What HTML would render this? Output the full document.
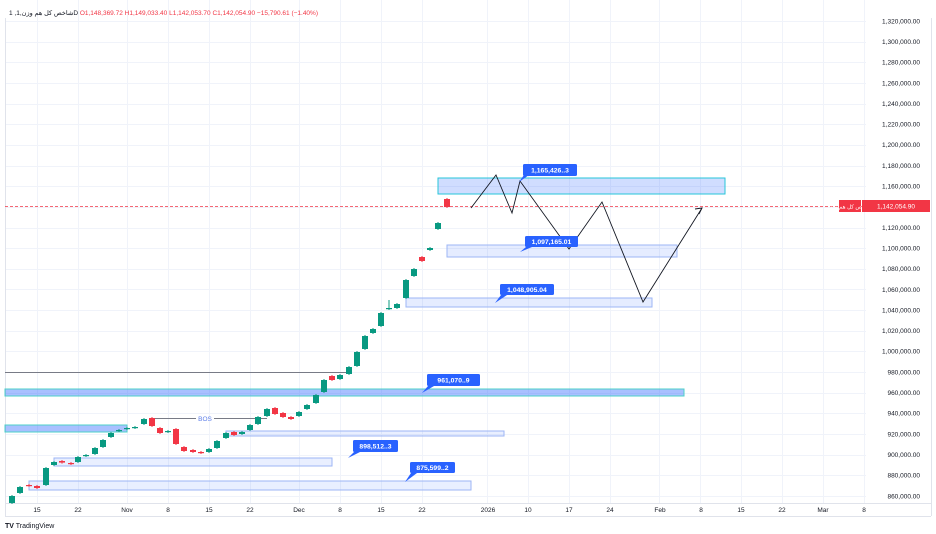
<!DOCTYPE html>
<html><head><meta charset="utf-8"><style>
html,body{margin:0;padding:0;background:#fff;}
svg{display:block;font-family:"Liberation Sans","Noto Sans CJK SC",sans-serif;}
</style></head><body>
<svg width="936" height="534" viewBox="0 0 936 534" xmlns="http://www.w3.org/2000/svg">
<rect width="936" height="534" fill="#fff"/>
<g stroke="#f0f3fa" stroke-width="1">
<line x1="37.5" y1="0" x2="37.5" y2="503"/><line x1="78.5" y1="0" x2="78.5" y2="503"/><line x1="127.5" y1="0" x2="127.5" y2="503"/><line x1="168.5" y1="0" x2="168.5" y2="503"/><line x1="209.5" y1="0" x2="209.5" y2="503"/><line x1="250.5" y1="0" x2="250.5" y2="503"/><line x1="299.5" y1="0" x2="299.5" y2="503"/><line x1="340.5" y1="0" x2="340.5" y2="503"/><line x1="381.5" y1="0" x2="381.5" y2="503"/><line x1="422.5" y1="0" x2="422.5" y2="503"/><line x1="487.5" y1="0" x2="487.5" y2="503"/><line x1="528.5" y1="0" x2="528.5" y2="503"/><line x1="569.5" y1="0" x2="569.5" y2="503"/><line x1="610.5" y1="0" x2="610.5" y2="503"/><line x1="659.5" y1="0" x2="659.5" y2="503"/><line x1="700.5" y1="0" x2="700.5" y2="503"/><line x1="741.5" y1="0" x2="741.5" y2="503"/><line x1="782.5" y1="0" x2="782.5" y2="503"/><line x1="823.5" y1="0" x2="823.5" y2="503"/><line x1="864.5" y1="0" x2="864.5" y2="503"/>
</g>
<g stroke="#f0f3fa" stroke-width="1" id="hg"></g>
<line x1="5" y1="503.5" x2="931" y2="503.5" stroke="#e0e3eb"/>
<line x1="5" y1="516.5" x2="931" y2="516.5" stroke="#e0e3eb"/>
<line x1="5.5" y1="18" x2="5.5" y2="516" stroke="#e0e3eb"/>
<line x1="931.5" y1="18" x2="931.5" y2="516" stroke="#e0e3eb"/>
<g id="py" font-size="6.5" fill="#131722" text-anchor="end"></g>

<!-- boxes -->
<rect x="438" y="178" width="287" height="16" fill="rgba(41,98,255,0.22)" stroke="#26c6da" stroke-width="1"/>
<rect x="447" y="245" width="230" height="12" fill="rgba(41,98,255,0.12)" stroke="#9db6f5" stroke-width="1"/>
<rect x="406" y="298" width="246" height="9" fill="rgba(41,98,255,0.12)" stroke="#9db6f5" stroke-width="1"/>
<rect x="5" y="389" width="679" height="7" fill="rgba(41,98,255,0.4)" stroke="#4dd0c8" stroke-width="1"/>
<rect x="5" y="425" width="122" height="7" fill="rgba(41,98,255,0.4)" stroke="#4dd0c8" stroke-width="1"/>
<rect x="226" y="431" width="278" height="5" fill="rgba(41,98,255,0.1)" stroke="#9db6f5" stroke-width="1"/>
<rect x="54" y="458" width="278" height="8" fill="rgba(41,98,255,0.1)" stroke="#9db6f5" stroke-width="1"/>
<rect x="29" y="481" width="442" height="9" fill="rgba(41,98,255,0.1)" stroke="#9db6f5" stroke-width="1"/>
<line x1="5" y1="372.5" x2="349" y2="372.5" stroke="#787b86" stroke-width="1"/>
<line x1="152" y1="418.5" x2="196" y2="418.5" stroke="#787b86"/>
<line x1="214" y1="418.5" x2="267" y2="418.5" stroke="#787b86"/>
<text x="205" y="421" font-size="6.5" fill="#5b7de8" text-anchor="middle">BOS</text>

<line x1="5" y1="206.5" x2="862" y2="206.5" stroke="#f23645" stroke-width="0.7" stroke-dasharray="3,2"/>

<g id="candles"></g>

<polyline points="471,208 496,175 512,213 520,181 569,249 602,202 643,302 702,208" fill="none" stroke="#131722" stroke-width="0.9"/>
<polyline points="695,209 702,208 699,214" fill="none" stroke="#131722" stroke-width="0.9"/>

<g font-size="6.8" font-weight="bold" fill="#fff">
<path d="M524,175 L519,182 L529,175Z" fill="#2962ff"/><rect x="523" y="164" width="54" height="12" rx="1.5" fill="#2962ff"/><text x="550" y="172.5" text-anchor="middle">1,165,426..3</text>
<path d="M526,247 L520,252 L532,247Z" fill="#2962ff"/><rect x="525" y="236" width="53" height="11" rx="1.5" fill="#2962ff"/><text x="551.5" y="244" text-anchor="middle">1,097,165.01</text>
<path d="M501,295 L495,303 L507,295Z" fill="#2962ff"/><rect x="500" y="284" width="54" height="11" rx="1.5" fill="#2962ff"/><text x="527" y="292" text-anchor="middle">1,048,905.04</text>
<path d="M428,386 L422,393 L434,386Z" fill="#2962ff"/><rect x="427" y="374" width="53" height="12" rx="1.5" fill="#2962ff"/><text x="453.5" y="382.5" text-anchor="middle">961,070..9</text>
<path d="M354,452 L348,458 L360,452Z" fill="#2962ff"/><rect x="353" y="440" width="45" height="12" rx="1.5" fill="#2962ff"/><text x="375.5" y="448.5" text-anchor="middle">898,512..3</text>
<path d="M411,473 L405,482 L417,473Z" fill="#2962ff"/><rect x="410" y="462" width="45" height="11" rx="1.5" fill="#2962ff"/><text x="432.5" y="470" text-anchor="middle">875,599..2</text>
</g>

<rect x="839" y="200" width="22" height="12" fill="#f23645"/>
<text x="850" y="208.5" font-size="5.5" fill="#fff" text-anchor="middle">شاخص کل هم وزن</text>
<rect x="862" y="200" width="68" height="12" fill="#f23645"/>
<text x="896" y="208.5" font-size="6.5" fill="#fff" text-anchor="middle">1,142,054.90</text>

<g font-size="6.5" fill="#131722" text-anchor="middle">
<text x="37" y="512">15</text><text x="78" y="512">22</text><text x="127" y="512">Nov</text><text x="168" y="512">8</text><text x="209" y="512">15</text><text x="250" y="512">22</text><text x="299" y="512">Dec</text><text x="340" y="512">8</text><text x="381" y="512">15</text><text x="422" y="512">22</text><text x="488" y="512">2026</text><text x="528" y="512">10</text><text x="569" y="512">17</text><text x="610" y="512">24</text><text x="660" y="512">Feb</text><text x="701" y="512">8</text><text x="741" y="512">15</text><text x="782" y="512">22</text><text x="823" y="512">Mar</text><text x="864" y="512">8</text>
</g>
<text x="9" y="15" font-size="6.5" fill="#131722">1 ,شاخص کل هم وزن,1D  <tspan fill="#f23645">O1,148,369.72  H1,149,033.40  L1,142,053.70  C1,142,054.90  −15,790.61 (−1.40%)</tspan></text>
<text x="5" y="528" font-size="7" fill="#131722"><tspan font-weight="bold">TV</tspan> TradingView</text>
</svg>
<script>
var ns="http://www.w3.org/2000/svg";
function el(t,a,p){var e=document.createElementNS(ns,t);for(var k in a)e.setAttribute(k,a[k]);p.appendChild(e);return e;}
var hg=document.getElementById('hg'),py=document.getElementById('py');
for(var p=1320000;p>=860000;p-=20000){var y=21+(1320000-p)/20000*20.65;
el('line',{x1:5,x2:866,y1:Math.round(y)+.5,y2:Math.round(y)+.5},hg);
if(p!==1140000){var t=el('text',{x:920,y:y+2.3},py);t.textContent=p.toLocaleString('en-US')+'.00';}}
var c=[[12,496,503,1],[20,487,493,1],[29,485,485.8,0],[37,486,488,0],[46,468,485,1],[54,462,465,1],[62,461,462.6,0],[71,463,464,0],[78,457,462,1],[86,455,456,1],[95,448,454,1],[103,440,447,1],[111,433,437,1],[119,430,431,1],[127,428,429,1],[135,427,428,1],[144,419,424,1],[152,418,426,0],[160,428,433,0],[168,431,432,1],[176,429,444,0],[184,447,451,0],[193,450,452,0],[201,452,453,0],[209,449,452,1],[217,441,448,1],[226,433,438,1],[234,432,435,0],[242,432,434,1],[250,425,430,1],[258,417,424,1],[267,409,416,1],[275,408,414,0],[283,413,417,0],[291,417,419,0],[299,412,416,1],[307,405,409,1],[316,395,403,1],[324,380,392,1],[332,376,380,0],[340,375,379,1],[349,367,374,1],[357,352,366,1],[365,336,349,1],[373,329,333,1],[381,313,326,1],[389,308,309,1,300],[397,304,308,1],[406,280,298,1],[414,269,276,1],[422,257,261,0],[430,248,250,1],[438,223,229,1],[447,199,207,0]];
var g=document.getElementById('candles');
c.forEach(function(d){var col=d[3]?'#089981':'#f23645';
var top=d[4]||d[1]-1,bot=d[2]+1;
el('line',{x1:d[0],x2:d[0],y1:top,y2:bot,stroke:col,'stroke-width':1},g);
el('rect',{x:d[0]-3,y:d[1],width:6,height:Math.max(1.2,d[2]-d[1]),fill:col},g);});
</script>
</body></html>
